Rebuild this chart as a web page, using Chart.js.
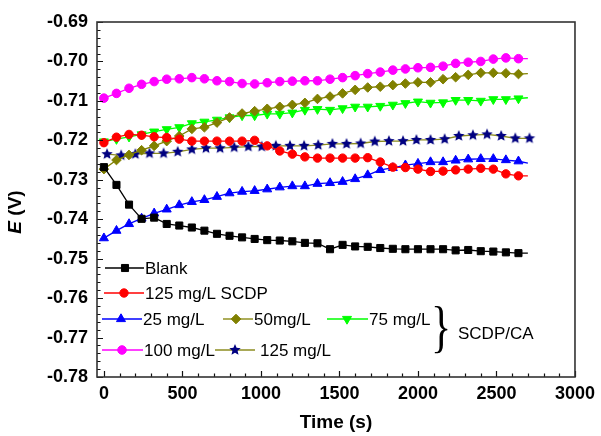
<!DOCTYPE html>
<html>
<head>
<meta charset="utf-8">
<script src="https://cdn.jsdelivr.net/npm/chart.js@4/dist/chart.umd.min.js"></script>
<style>
  html, body { margin: 0; padding: 0; background: #fff; }
</style>
</head>
<body>
<canvas id="chart" width="601" height="436"></canvas>
<script>
// time axis (s) for the 80 s sampled series, last entry is the line end (no marker)
const timeS = [0, 80, 160, 240, 320, 400, 480, 560, 640, 720,
  800, 880, 960, 1040, 1120, 1200, 1280, 1360, 1440, 1520,
  1600, 1680, 1760, 1840, 1920, 2000, 2080, 2160, 2240, 2320,
  2400, 2480, 2560, 2640, 2700];
// the star series is sampled a little differently
const starTimeS = [20, 110, 200, 290, 380, 470, 560, 650, 740, 830,
  920, 1005, 1095, 1185, 1275, 1365, 1455, 1545, 1635, 1725,
  1815, 1905, 1990, 2080, 2170, 2260, 2350, 2440, 2530, 2620, 2710];

const blank = [-0.7268, -0.7313, -0.7363, -0.7399, -0.7396, -0.7412, -0.7416, -0.7421, -0.7429, -0.7437,
  -0.7442, -0.7446, -0.7450, -0.7453, -0.7454, -0.7456, -0.7460, -0.7461, -0.7476, -0.7465,
  -0.7469, -0.7470, -0.7473, -0.7475, -0.7476, -0.7476, -0.7476, -0.7476, -0.7479, -0.7478,
  -0.7481, -0.7482, -0.7484, -0.7486, -0.7486];
const scdp125 = [-0.7206, -0.7192, -0.7185, -0.7187, -0.7191, -0.7193, -0.7197, -0.7202, -0.7202, -0.7202,
  -0.7202, -0.7202, -0.7200, -0.7214, -0.7227, -0.7235, -0.7242, -0.7245, -0.7245, -0.7245,
  -0.7245, -0.7244, -0.7255, -0.7268, -0.7269, -0.7273, -0.7279, -0.7278, -0.7275, -0.7273,
  -0.7271, -0.7273, -0.7285, -0.7290, -0.7290];
const ca25 = [-0.7448, -0.7429, -0.7412, -0.7398, -0.7385, -0.7375, -0.7364, -0.7356, -0.7351, -0.7343,
  -0.7334, -0.7330, -0.7328, -0.7324, -0.7319, -0.7316, -0.7316, -0.7310, -0.7308, -0.7305,
  -0.7298, -0.7288, -0.7275, -0.7270, -0.7263, -0.7259, -0.7255, -0.7255, -0.7251, -0.7248,
  -0.7247, -0.7247, -0.7250, -0.7253, -0.7258];
const ca50 = [-0.7273, -0.7250, -0.7237, -0.7225, -0.7214, -0.7202, -0.7189, -0.7171, -0.7167, -0.7155,
  -0.7142, -0.7132, -0.7126, -0.7120, -0.7115, -0.7110, -0.7105, -0.7095, -0.7089, -0.7081,
  -0.7072, -0.7066, -0.7064, -0.7060, -0.7056, -0.7053, -0.7053, -0.7045, -0.7040, -0.7034,
  -0.7029, -0.7029, -0.7030, -0.7032, -0.7031];
const ca75 = [-0.7203, -0.7197, -0.7191, -0.7185, -0.7178, -0.7172, -0.7167, -0.7157, -0.7153, -0.7148,
  -0.7142, -0.7137, -0.7137, -0.7133, -0.7133, -0.7130, -0.7123, -0.7121, -0.7123, -0.7119,
  -0.7115, -0.7115, -0.7113, -0.7110, -0.7106, -0.7102, -0.7105, -0.7104, -0.7098, -0.7098,
  -0.7100, -0.7096, -0.7096, -0.7094, -0.7092];
const ca100 = [-0.7093, -0.7081, -0.7068, -0.7058, -0.7051, -0.7045, -0.7044, -0.7041, -0.7044, -0.7049,
  -0.7051, -0.7056, -0.7057, -0.7054, -0.7051, -0.7050, -0.7049, -0.7049, -0.7045, -0.7041,
  -0.7036, -0.7031, -0.7027, -0.7022, -0.7019, -0.7016, -0.7015, -0.7012, -0.7005, -0.7002,
  -0.7000, -0.6994, -0.6991, -0.6993, -0.6993];
const ca125 = [-0.7235, -0.7238, -0.7235, -0.7233, -0.7233, -0.7229, -0.7223, -0.7220, -0.7220, -0.7218,
  -0.7216, -0.7216, -0.7214, -0.7214, -0.7214, -0.7212, -0.7209, -0.7209, -0.7208, -0.7203,
  -0.7202, -0.7202, -0.7199, -0.7199, -0.7197, -0.7189, -0.7187, -0.7185, -0.7189, -0.7195, -0.7195];

const xTicks = [0, 500, 1000, 1500, 2000, 2500, 3000];
const yTicks = [-0.69, -0.70, -0.71, -0.72, -0.73, -0.74, -0.75, -0.76, -0.77, -0.78];

const FONT = '"Liberation Sans", Arial, sans-serif';
const END_T = 2700;

function makeStar(r, fill) {
  const c = document.createElement('canvas');
  const s = Math.ceil(r * 2 + 2);
  c.width = s; c.height = s;
  const g = c.getContext('2d');
  g.translate(s / 2, s / 2);
  g.beginPath();
  for (let i = 0; i < 10; i++) {
    const rr = i % 2 ? r * 0.45 : r;
    const a = -Math.PI / 2 + i * Math.PI / 5;
    g.lineTo(rr * Math.cos(a), rr * Math.sin(a));
  }
  g.closePath();
  g.fillStyle = fill;
  g.fill();
  return c;
}
const starImg = makeStar(6, '#000080');

function series(label, xs, ys, color, style, r, extra) {
  return Object.assign({
    label: label,
    data: ys.map((y, i) => ({ x: xs[i], y: y })),
    borderColor: color,
    backgroundColor: color,
    pointBackgroundColor: color,
    pointBorderColor: color,
    pointStyle: style,
    pointRadius: c => (c.raw && c.raw.x === END_T ? 0 : r),
    legendRadius: r,
    pointBorderWidth: 1,
    borderWidth: 1.3,
    tension: 0
  }, extra || {});
}

const datasets = [
  series('Blank', timeS, blank, '#000000', 'rect', 5),
  series('125 mg/L SCDP', timeS, scdp125, '#ff0000', 'circle', 4.2),
  series('25 mg/L', timeS, ca25, '#0000ff', 'triangle', 5.2),
  series('50mg/L', timeS, ca50, '#808000', 'rectRot', 4.8),
  series('75 mg/L', timeS, ca75, '#00ff00', 'triangle', 5.2, { pointRotation: 180 }),
  series('100 mg/L', timeS, ca100, '#ff00ff', 'circle', 4.3),
  series('125 mg/L', starTimeS, ca125, '#8c8c20', starImg, 5, { pointBackgroundColor: '#000080', pointBorderColor: '#000080' })
];

// legend layout: [dataset index, line x0, line x1, marker x, y, text x]
const legendRows = [
  [0, 105, 144, 125, 268, 145],
  [1, 104, 144, 124, 293, 145],
  [2, 102, 142, 121, 319, 143],
  [3, 223, 253, 236, 319, 254],
  [4, 327, 368, 347, 319, 369],
  [5, 102, 143, 122, 350, 144],
  [6, 215, 255, 235, 350, 260]
];

const decorPlugin = {
  id: 'decor',
  afterDatasetsDraw(chart) {
    const ctx = chart.ctx;
    const a = chart.chartArea;
    const xs = chart.scales.x, ys = chart.scales.y;
    ctx.save();
    // inward ticks
    ctx.strokeStyle = '#111';
    ctx.lineWidth = 1.2;
    ctx.beginPath();
    for (let t = 0; t <= 3000; t += 100) {
      const px = Math.round(xs.getPixelForValue(t)) + 0.5;
      const len = t % 500 === 0 ? 6 : 3.5;
      ctx.moveTo(px, a.bottom); ctx.lineTo(px, a.bottom - len);
    }
    for (let i = 0; i <= 45; i++) {
      const v = -0.78 + i * 0.002;
      const py = Math.round(ys.getPixelForValue(v)) + 0.5;
      const len = i % 5 === 0 ? 6 : 3.5;
      ctx.moveTo(a.left, py); ctx.lineTo(a.left + len, py);
    }
    ctx.stroke();
    // frame
    ctx.strokeStyle = '#333';
    ctx.lineWidth = 1.6;
    ctx.strokeRect(a.left, a.top, a.right - a.left, a.bottom - a.top);

    // legend
    ctx.font = '17px ' + FONT;
    ctx.textBaseline = 'middle';
    ctx.textAlign = 'left';
    legendRows.forEach(row => {
      const d = chart.data.datasets[row[0]];
      ctx.strokeStyle = d.borderColor;
      ctx.lineWidth = 1.3;
      ctx.beginPath();
      ctx.moveTo(row[1], row[4]); ctx.lineTo(row[2], row[4]);
      ctx.stroke();
      ctx.fillStyle = d.pointBackgroundColor;
      ctx.strokeStyle = d.pointBorderColor;
      ctx.lineWidth = 1;
      Chart.helpers.drawPoint(ctx, {
        pointStyle: d.pointStyle, radius: d.legendRadius,
        rotation: d.pointRotation || 0, borderWidth: 1
      }, row[3], row[4]);
      ctx.fillStyle = '#000';
      ctx.fillText(d.label, row[5], row[4] + 1);
    });

    // brace + group label
    ctx.save();
    ctx.translate(441, 333);
    ctx.scale(0.75, 1);
    ctx.font = '56px "Liberation Serif", serif';
    ctx.textAlign = 'center';
    ctx.textBaseline = 'alphabetic';
    ctx.fillText('}', 0, 13);
    ctx.restore();
    ctx.font = '17px ' + FONT;
    ctx.textAlign = 'left';
    ctx.textBaseline = 'middle';
    ctx.fillText('SCDP/CA', 458, 334);

    // y axis title: italic E + (V)
    ctx.save();
    ctx.translate(16, 212);
    ctx.rotate(-Math.PI / 2);
    const fE = 'italic bold 19px ' + FONT, fV = 'bold 19px ' + FONT;
    ctx.font = fE; const wE = ctx.measureText('E').width;
    ctx.font = fV; const wV = ctx.measureText(' (V)').width;
    const x0 = -(wE + wV) / 2;
    ctx.textAlign = 'left';
    ctx.textBaseline = 'middle';
    ctx.font = fE; ctx.fillText('E', x0, 0);
    ctx.font = fV; ctx.fillText(' (V)', x0 + wE, 0);
    ctx.restore();

    ctx.restore();
  }
};

new Chart(document.getElementById('chart'), {
  type: 'line',
  data: { datasets: datasets },
  options: {
    responsive: false,
    animation: false,
    devicePixelRatio: 1,
    layout: { padding: { left: 0, right: 22, top: 22, bottom: 0 } },
    plugins: { legend: { display: false }, tooltip: { enabled: false } },
    scales: {
      x: {
        type: 'linear',
        min: -44,
        max: 3000,
        afterBuildTicks: s => { s.ticks = xTicks.map(v => ({ value: v })); },
        afterFit: s => { s.height = 59; },
        grid: { display: false, drawTicks: false },
        border: { display: false },
        ticks: { padding: 6, color: '#000', font: { family: FONT, size: 18, weight: 'bold' }, maxRotation: 0, callback: v => String(v) },
        title: { display: true, text: 'Time (s)', color: '#000', font: { family: FONT, size: 19, weight: 'bold' }, padding: { top: 0, bottom: 2 } }
      },
      y: {
        type: 'linear',
        min: -0.78,
        max: -0.69,
        afterBuildTicks: s => { s.ticks = yTicks.map(v => ({ value: v })); },
        afterFit: s => { s.width = 97; },
        grid: { display: false, drawTicks: false },
        border: { display: false },
        ticks: { padding: 9, color: '#000', font: { family: FONT, size: 18, weight: 'bold' }, callback: v => v.toFixed(2) }
      }
    }
  },
  plugins: [decorPlugin]
});
</script>
</body>
</html>
